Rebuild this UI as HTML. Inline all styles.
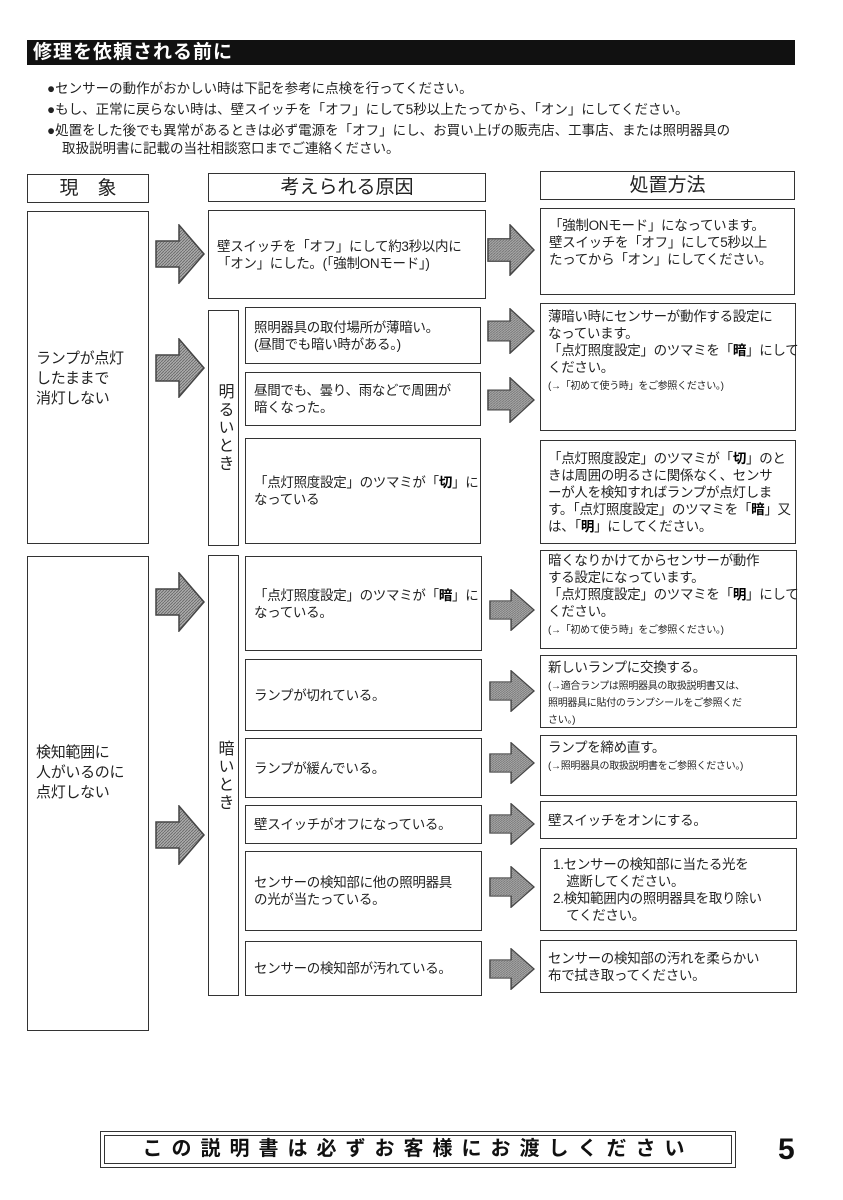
<!DOCTYPE html>
<html><head><meta charset="utf-8">
<style>
*{margin:0;padding:0;box-sizing:border-box}
body{width:843px;height:1200px;background:#fff;position:relative;overflow:hidden;font-family:"Liberation Sans","Noto Sans CJK JP",sans-serif;color:#222}
.a{position:absolute}
.b{position:absolute;border:1.5px solid #333;background:#fff;font-size:13.5px;line-height:17px;padding:0 8px;display:flex;flex-direction:column;justify-content:center}
.b>div{display:block;white-space:nowrap;letter-spacing:-0.3px}
.s{font-size:10px;line-height:13px}
.h{position:absolute;border:1.5px solid #333;font-size:19px;text-align:center;line-height:27px}
.v{position:absolute;border:1.5px solid #333;writing-mode:vertical-rl;font-size:16px;display:flex;align-items:center;justify-content:center;letter-spacing:2px}
b{font-weight:bold;color:#000}
svg{position:absolute}
</style></head><body>
<svg width="0" height="0"><defs><pattern id="p" width="3" height="3" patternUnits="userSpaceOnUse"><rect width="3" height="3" fill="#aaa"/><path d="M0 3L3 0" stroke="#666" stroke-width="0.8"/></pattern>
<symbol id="ar" viewBox="0 0 50 60" preserveAspectRatio="none"><polygon points="1,17 24,17 24,1 49,30 24,59 24,43 1,43" fill="url(#p)" stroke="#444" stroke-width="1.5"/></symbol></defs></svg>

<div class="a" style="left:27px;top:40px;width:768px;height:25px;background:#111;color:#fff;font-size:19px;font-weight:bold;line-height:25px;padding-left:6px;letter-spacing:1px">修理を依頼される前に</div>
<div class="a" style="left:47px;top:78px;font-size:13.5px;line-height:21px;width:780px">●センサーの動作がおかしい時は下記を参考に点検を行ってください。<br>●もし、正常に戻らない時は、壁スイッチを「オフ」にして5秒以上たってから、「オン」にしてください。<br>●処置をした後でも異常があるときは必ず電源を「オフ」にし、お買い上げの販売店、工事店、または照明器具の</div>
<div class="a" style="left:62px;top:141px;font-size:13.5px;line-height:16px">取扱説明書に記載の当社相談窓口までご連絡ください。</div>

<div class="h" style="left:27px;top:174px;width:122px;height:29px">現　象</div>
<div class="h" style="left:208px;top:173px;width:278px;height:29px">考えられる原因</div>
<div class="h" style="left:540px;top:171px;width:255px;height:29px">処置方法</div>

<div class="b" style="left:27px;top:211px;width:122px;height:333px;font-size:15px;line-height:20px;justify-content:flex-start;padding-top:137px"><div>ランプが点灯<br>したままで<br>消灯しない</div></div>
<div class="b" style="left:27px;top:556px;width:122px;height:475px;font-size:15px;line-height:20px;justify-content:flex-start;padding-top:186px"><div>検知範囲に<br>人がいるのに<br>点灯しない</div></div>

<svg style="left:155px;top:224px" width="50" height="60"><use href="#ar"/></svg>
<svg style="left:155px;top:338px" width="50" height="60"><use href="#ar"/></svg>
<svg style="left:155px;top:572px" width="50" height="60"><use href="#ar"/></svg>
<svg style="left:155px;top:805px" width="50" height="60"><use href="#ar"/></svg>

<div class="b" style="left:208px;top:210px;width:278px;height:89px"><div>壁スイッチを「オフ」にして約3秒以内に<br>「オン」にした。(「強制ONモード」)</div></div>
<div class="v" style="left:208px;top:310px;width:31px;height:236px">明るいとき</div>
<div class="b" style="left:245px;top:307px;width:236px;height:57px"><div>照明器具の取付場所が薄暗い。<br>(昼間でも暗い時がある。)</div></div>
<div class="b" style="left:245px;top:372px;width:236px;height:54px"><div>昼間でも、曇り、雨などで周囲が<br>暗くなった。</div></div>
<div class="b" style="left:245px;top:438px;width:236px;height:106px"><div>「点灯照度設定」のツマミが「<b>切</b>」に<br>なっている</div></div>
<div class="v" style="left:208px;top:555px;width:31px;height:441px">暗いとき</div>
<div class="b" style="left:245px;top:556px;width:237px;height:95px"><div>「点灯照度設定」のツマミが「<b>暗</b>」に<br>なっている。</div></div>
<div class="b" style="left:245px;top:659px;width:237px;height:72px"><div>ランプが切れている。</div></div>
<div class="b" style="left:245px;top:738px;width:237px;height:60px"><div>ランプが緩んでいる。</div></div>
<div class="b" style="left:245px;top:805px;width:237px;height:39px"><div>壁スイッチがオフになっている。</div></div>
<div class="b" style="left:245px;top:851px;width:237px;height:80px"><div>センサーの検知部に他の照明器具<br>の光が当たっている。</div></div>
<div class="b" style="left:245px;top:941px;width:237px;height:55px"><div>センサーの検知部が汚れている。</div></div>

<svg style="left:487px;top:224px" width="48" height="52"><use href="#ar"/></svg>
<svg style="left:487px;top:308px" width="48" height="46"><use href="#ar"/></svg>
<svg style="left:487px;top:377px" width="48" height="46"><use href="#ar"/></svg>
<svg style="left:489px;top:589px" width="46" height="42"><use href="#ar"/></svg>
<svg style="left:489px;top:670px" width="46" height="42"><use href="#ar"/></svg>
<svg style="left:489px;top:742px" width="46" height="42"><use href="#ar"/></svg>
<svg style="left:489px;top:803px" width="46" height="42"><use href="#ar"/></svg>
<svg style="left:489px;top:866px" width="46" height="42"><use href="#ar"/></svg>
<svg style="left:489px;top:948px" width="46" height="42"><use href="#ar"/></svg>

<div class="b" style="left:540px;top:208px;width:255px;height:87px;justify-content:flex-start;padding-top:8px"><div>「強制ONモード」になっています。<br>壁スイッチを「オフ」にして5秒以上<br>たってから「オン」にしてください。</div></div>
<div class="b" style="left:540px;top:303px;width:256px;height:128px;justify-content:flex-start;padding-top:4px;padding-left:7px"><div>薄暗い時にセンサーが動作する設定に<br>なっています。<br>「点灯照度設定」のツマミを「<b>暗</b>」にして<br>ください。<br><span class="s">(→「初めて使う時」をご参照ください。)</span></div></div>
<div class="b" style="left:540px;top:440px;width:256px;height:104px;padding-left:7px"><div>「点灯照度設定」のツマミが「<b>切</b>」のと<br>きは周囲の明るさに関係なく、センサ<br>ーが人を検知すればランプが点灯しま<br>す。「点灯照度設定」のツマミを「<b>暗</b>」又<br>は、「<b>明</b>」にしてください。</div></div>
<div class="b" style="left:540px;top:550px;width:257px;height:99px;justify-content:flex-start;padding-top:1px;padding-left:7px"><div>暗くなりかけてからセンサーが動作<br>する設定になっています。<br>「点灯照度設定」のツマミを「<b>明</b>」にして<br>ください。<br><span class="s">(→「初めて使う時」をご参照ください。)</span></div></div>
<div class="b" style="left:540px;top:655px;width:257px;height:73px;justify-content:flex-start;padding-top:3px;padding-left:7px"><div>新しいランプに交換する。<br><span class="s">(→適合ランプは照明器具の取扱説明書又は、<br>照明器具に貼付のランプシールをご参照くだ<br>さい。)</span></div></div>
<div class="b" style="left:540px;top:735px;width:257px;height:61px;justify-content:flex-start;padding-top:3px;padding-left:7px"><div>ランプを締め直す。<br><span class="s">(→照明器具の取扱説明書をご参照ください。)</span></div></div>
<div class="b" style="left:540px;top:801px;width:257px;height:38px;padding-left:7px"><div>壁スイッチをオンにする。</div></div>
<div class="b" style="left:540px;top:848px;width:257px;height:83px;padding-left:12px"><div>1.センサーの検知部に当たる光を<br>　遮断してください。<br>2.検知範囲内の照明器具を取り除い<br>　てください。</div></div>
<div class="b" style="left:540px;top:940px;width:257px;height:53px;padding-left:7px"><div>センサーの検知部の汚れを柔らかい<br>布で拭き取ってください。</div></div>

<div class="a" style="left:100px;top:1131px;width:636px;height:37px;border:1.5px solid #333;padding:3px">
<div style="border:1.5px solid #333;height:100%;text-align:center;font-size:20px;font-weight:bold;line-height:26px;letter-spacing:9px;color:#111">この説明書は必ずお客様にお渡しください</div></div>
<div class="a" style="left:778px;top:1133px;font-size:30px;font-weight:bold;line-height:34px;color:#111">5</div>
</body></html>
